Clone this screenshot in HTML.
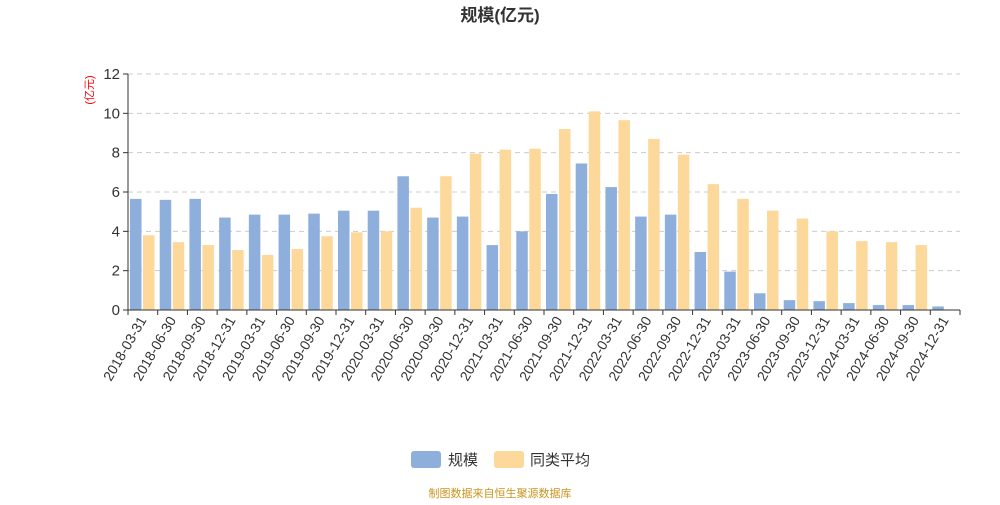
<!DOCTYPE html>
<html><head><meta charset="utf-8"><style>
body{margin:0;background:#fff;width:1000px;height:500px;overflow:hidden;font-family:"Liberation Sans","Noto Sans CJK SC",sans-serif}
</style></head><body>
<svg id="chart" width="1000" height="500" xmlns="http://www.w3.org/2000/svg" font-family="Liberation Sans, Noto Sans CJK SC, sans-serif">
<text x="500" y="21" text-anchor="middle" font-size="17" font-weight="bold" fill="#333">规模(亿元)</text>
<text transform="translate(93,90) rotate(-90)" text-anchor="middle" font-size="11" fill="#f00">(亿元)</text>
<g id="grid"></g><g id="bars"></g><g id="axes"></g>
<g>
<rect x="411" y="451" width="30" height="17" rx="3" fill="#8eaedb"/>
<text x="448" y="465" font-size="15" fill="#333">规模</text>
<rect x="494" y="451" width="30" height="17" rx="3" fill="#fdd89b"/>
<text x="530" y="465" font-size="15" fill="#333">同类平均</text>
</g>
<text x="500" y="497" text-anchor="middle" font-size="11" fill="#c8941e">制图数据来自恒生聚源数据库</text>
</svg>
<script>
const categories=["2018-03-31","2018-06-30","2018-09-30","2018-12-31","2019-03-31","2019-06-30","2019-09-30","2019-12-31","2020-03-31","2020-06-30","2020-09-30","2020-12-31","2021-03-31","2021-06-30","2021-09-30","2021-12-31","2022-03-31","2022-06-30","2022-09-30","2022-12-31","2023-03-31","2023-06-30","2023-09-30","2023-12-31","2024-03-31","2024-06-30","2024-09-30","2024-12-31"];
const scaleValues=[5.65,5.6,5.65,4.7,4.85,4.85,4.9,5.05,5.05,6.8,4.7,4.75,3.3,4.0,5.9,7.45,6.25,4.75,4.85,2.95,1.95,0.85,0.5,0.45,0.35,0.25,0.25,0.18];
const avgValues=[3.8,3.45,3.3,3.05,2.8,3.1,3.75,3.95,4.0,5.2,6.8,7.95,8.15,8.2,9.2,10.1,9.65,8.7,7.9,6.4,5.65,5.05,4.65,4.0,3.5,3.45,3.3,null];
const yTicks=[0,2,4,6,8,10,12];
const NS="http://www.w3.org/2000/svg";
const x0=128,x1=960,yb=310,yt=74,ymax=12;
const bw=(x1-x0)/categories.length;
const y=v=>yb-(v/ymax)*(yb-yt);
const xs=i=>x0+i*bw;
function mk(t,a,p){const e=document.createElementNS(NS,t);for(const k in a)e.setAttribute(k,a[k]);p.appendChild(e);return e;}
const grid=document.getElementById('grid'),bars=document.getElementById('bars'),axes=document.getElementById('axes');
yTicks.forEach(t=>{
 if(t>0){const l=mk('line',{x1:x0,x2:x1,y1:y(t),y2:y(t),stroke:'#ccc','stroke-dasharray':'5,4'},grid);
 
 }
 const tk=mk('line',{x1:x0-5,x2:x0,y1:y(t),y2:y(t),stroke:'#333'},axes);
 
 
 const tx=mk('text',{x:x0-8,y:y(t)+5,'text-anchor':'end','font-size':15,fill:'#333'},axes);tx.textContent=t;
 
 
});
categories.forEach((c,i)=>{
 const b=mk('rect',{x:xs(i)+2,y:y(scaleValues[i]),width:11.5,height:yb-y(scaleValues[i]),fill:'#8eaedb'},bars);
 
 
 if(avgValues[i]!=null){const o=mk('rect',{x:xs(i)+15,y:y(avgValues[i]),width:11.5,height:yb-y(avgValues[i]),fill:'#fdd89b'},bars);
 
 }
 const tk=mk('line',{x1:xs(i),x2:xs(i),y1:yb,y2:yb+5,stroke:'#333'},axes);
 
 
 const cx=xs(i)+bw/2;
 const tx=mk('text',{x:cx+4,y:yb+10,'text-anchor':'end','font-size':14,fill:'#333',transform:`rotate(-60 ${cx+4} ${yb+10})`},axes);tx.textContent=c;
 
 
});
const ya=mk('line',{x1:x0,x2:x0,y1:yt,y2:yb,stroke:'#333'},axes);


const xa=mk('line',{x1:x0,x2:x1,y1:yb,y2:yb,stroke:'#333'},axes);


const te=mk('line',{x1:x1,x2:x1,y1:yb,y2:yb+5,stroke:'#333'},axes);


</script>
</body></html>
